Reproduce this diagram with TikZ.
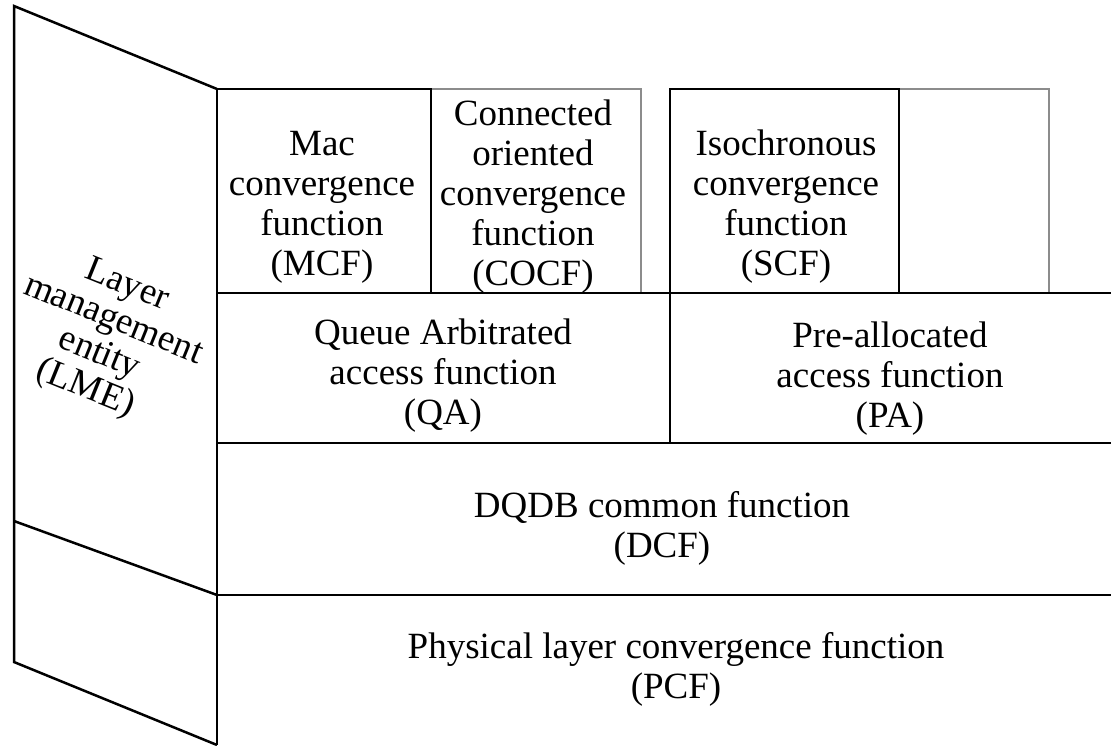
\documentclass[tikz,border=0pt]{standalone}
\usepackage{fontspec}
\setmainfont{Liberation Serif}
\begin{document}
\begin{tikzpicture}[x=1pt,y=-1pt,
  frame/.style={line width=2.5pt, black},
  faint/.style={line width=2pt, black!45},
  label/.style={font=\fontsize{37}{40}\selectfont, align=center, inner sep=0pt},
  lmelabel/.style={font=\fontsize{37}{37}\selectfont, align=center, inner sep=0pt, rotate=-22}]
\useasboundingbox (0,0) rectangle (1111,745);

% open-ended (grey) boxes of the convergence row
\draw[faint] (431,89) -- (641,89) -- (641,293);
\draw[faint] (899,89) -- (1049,89) -- (1049,293);

% layer management entity, drawn as a slanted side panel
\draw[frame] (217,89) -- (14,6) -- (14,662) -- (217,745);
\draw[frame] (14,521) -- (217,595);
\draw[frame] (217,89) -- (217,745);

% convergence functions
\draw[frame] (217,89) -- (431,89) -- (431,293);
\draw[frame] (670,293) -- (670,89) -- (899,89) -- (899,293);

% layer separators
\draw[frame] (217,293) -- (1111,293);
\draw[frame] (217,443) -- (1111,443);
\draw[frame] (217,595) -- (1111,595);
\draw[frame] (670,293) -- (670,443);

% texts
\node[label] (mcf)  at (322,207) {Mac\\convergence\\function\\(MCF)};
\node[label] (cocf) at (533,197) {Connected\\oriented\\convergence\\function\\(COCF)};
\node[label] (scf)  at (786,207) {Isochronous\\convergence\\function\\(SCF)};
\node[label] (qa)   at (443,376) {Queue Arbitrated\\access function\\(QA)};
\node[label] (pa)   at (890,379) {Pre-allocated\\access function\\(PA)};
\node[label] (dcf)  at (662,528) {DQDB common function\\(DCF)};
\node[label] (pcf)  at (676,669) {Physical layer convergence function\\(PCF)};
\node[lmelabel] (lme) at (106,338) {Layer\\management\\entity\\(LME)};
\end{tikzpicture}
\end{document}
